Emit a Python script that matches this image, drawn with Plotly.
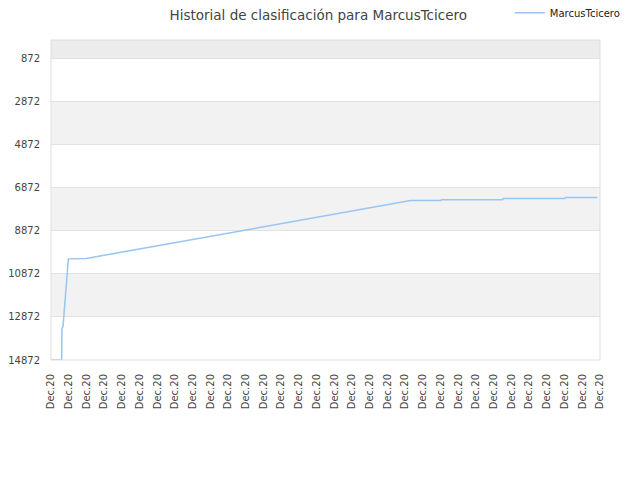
import plotly.graph_objects as go

title_text = "Historial de clasificación para MarcusTcicero"
series_name = "MarcusTcicero"

# x positions in tick-index units (32 ticks, all labelled "Dec.20")
x_vals = [0, 0.6, 0.62, 0.68, 0.98, 1.86, 2, 3, 4, 5, 6, 7, 8, 9, 10, 11, 12, 13,
          14, 15, 16, 17, 18, 19, 20, 20.3, 22.0, 22.05, 25.5, 25.55, 29.0, 29.05, 30.85]
ranks = [14872, 14872, 13400, 13300, 10172, 10172, 10152, 10006, 9860, 9714, 9568,
         9422, 9276, 9130, 8984, 8838, 8692, 8546, 8400, 8254, 8108, 7962, 7816,
         7670, 7524, 7463, 7463, 7421, 7421, 7370, 7370, 7323, 7323]

tick_positions = list(range(32))
tick_labels = ["Dec.20"] * 32
y_ticks = [872, 2872, 4872, 6872, 8872, 10872, 12872, 14872]
bands = [(0, 872, "#ececec"), (2872, 4872, "#f2f2f2"), (6872, 8872, "#f2f2f2"),
         (10872, 12872, "#f2f2f2")]

fig = go.Figure()
fig.add_trace(go.Scatter(x=x_vals, y=ranks, mode="lines", name=series_name,
                         line=dict(color="#98c5f2", width=1.5)))

shapes = []
for y0, y1, c in bands:
    shapes.append(dict(type="rect", xref="paper", yref="y", x0=0, x1=1, y0=y0, y1=y1,
                       fillcolor=c, line=dict(width=0), layer="below"))
shapes.append(dict(type="rect", xref="paper", yref="paper", x0=0, x1=1, y0=0, y1=1,
                   line=dict(color="#dddddd", width=1), fillcolor="rgba(0,0,0,0)"))

# page body adds an 8px offset, so the figure is 632x472
fig.update_layout(
    width=632, height=472,
    margin=dict(l=43, r=40, t=32, b=120, autoexpand=False),
    paper_bgcolor="white", plot_bgcolor="white",
    font=dict(family="DejaVu Sans", size=10, color="#444444"),
    title=dict(text=title_text, x=0.491, xanchor="center", xref="container",
               y=0.985, yanchor="middle",
               font=dict(size=13.5, color="#444444")),
    showlegend=True,
    legend=dict(orientation="h", x=0.794, y=0.99, xanchor="left", yanchor="middle",
                xref="container", yref="container", font=dict(size=10, color="#222222"),
                bgcolor="rgba(0,0,0,0)", itemwidth=30),
    shapes=shapes,
    xaxis=dict(range=[0, 31], tickmode="array", tickvals=tick_positions,
               ticktext=tick_labels, tickangle=-90, showgrid=False, zeroline=False,
               showline=False, ticks="outside", ticklen=9, tickcolor="rgba(0,0,0,0)",
               automargin=False,
               tickfont=dict(size=10, color="#444444")),
    yaxis=dict(range=[14872, 0], tickmode="array", tickvals=y_ticks,
               ticktext=[str(v) for v in y_ticks], showgrid=True, gridcolor="#e2e2e2",
               zeroline=False, showline=False, ticks="outside", ticklen=8,
               tickcolor="rgba(0,0,0,0)", automargin=False,
               tickfont=dict(size=10, color="#444444")),
)
fig.write_html("out.html")
